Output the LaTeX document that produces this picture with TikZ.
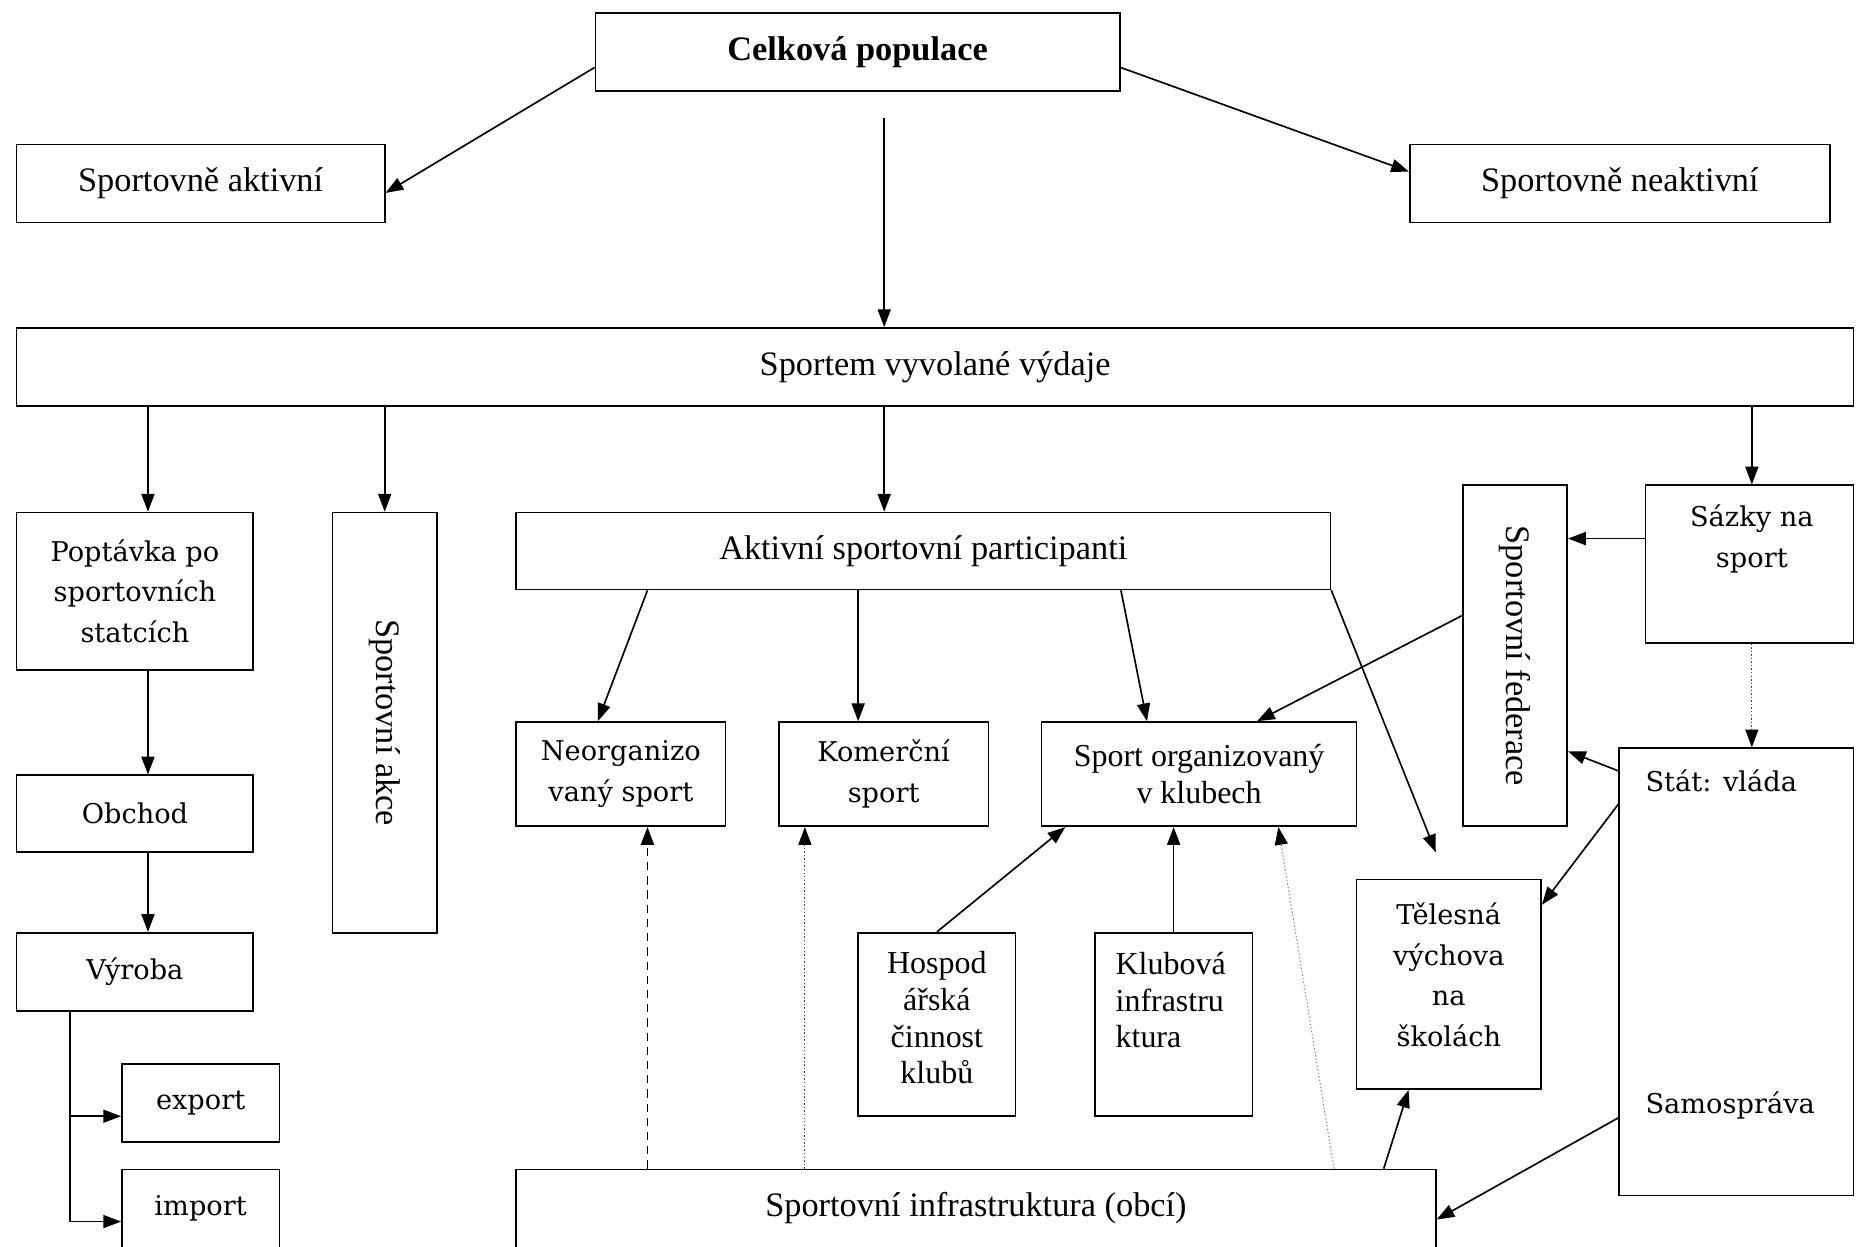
\documentclass[tikz,border=0pt]{standalone}
\usepackage{fontspec}
\usepackage{graphicx}
\setmainfont{Liberation Serif}
\newfontfamily\widefont{DejaVu Serif}
\usetikzlibrary{arrows.meta}
\begin{document}
\begin{tikzpicture}[x=1pt,y=-1pt,
  every node/.style={inner sep=0pt},
  box/.style={draw, line width=1.4pt, align=center, font=\fontsize{29}{31}\selectfont},
  wbox/.style={box, font=\widefont\fontsize{23}{34.5}\selectfont},
  ttxt/.style={align=center, font=\fontsize{27}{31}\selectfont},
  wtxt/.style={align=center, font=\widefont\fontsize{23}{34.5}\selectfont},
  arr/.style={line width=1.4pt, -{Triangle[length=15pt,width=11pt]}},
  dasharr/.style={arr, dash pattern=on 7pt off 5pt},
  dotarr/.style={line width=0.9pt, draw=black!75, dash pattern=on 1.2pt off 1.8pt, -{Triangle[length=15pt,width=11pt,color=black]}},
  lightdotarr/.style={dotarr, draw=black!45},
]
\useasboundingbox (0,0) rectangle (1568,1053);
\fill[white] (0,0) rectangle (1568,1053);
\clip (0,0) rectangle (1568,1053);

% top level
\node[box, font=\fontsize{29}{31}\selectfont\bfseries, minimum width=443pt, minimum height=66pt] (cel) at (724.5,44) {Celková populace};
\node[box, minimum width=311pt, minimum height=66pt] (sa) at (169.5,155) {Sportovně aktivní};
\node[box, minimum width=355pt, minimum height=66pt] (sn) at (1368.5,155) {Sportovně neaktivní};
\node[box, minimum width=1552pt, minimum height=66pt] (svv) at (790,310) {Sportem vyvolané výdaje};

% left column
\node[wbox, minimum width=200pt, minimum height=133pt] (pop) at (114,499.5) {Poptávka po\\sportovních\\statcích};
\node[wbox, minimum width=200pt, minimum height=65pt] (obc) at (114,687.5) {Obchod};
\node[wbox, minimum width=200pt, minimum height=66pt] (vyr) at (114,821) {Výroba};
\node[wbox, minimum width=133pt, minimum height=66pt] (exp) at (169.5,932) {export};
\node[wbox, minimum width=133pt, minimum height=66pt] (imp) at (169.5,1021) {import};
\node[box, minimum width=88pt, minimum height=355pt] (sak) at (325,610.5) {\rotatebox{-90}{Sportovní akce}};

% middle
\node[box, minimum width=688pt, minimum height=65pt] (akt) at (780,465.5) {Aktivní sportovní participanti};
\node[wbox, minimum width=177pt, minimum height=88pt] (neo) at (524.5,654) {Neorganizo\\vaný sport};
\node[wbox, minimum width=177pt, minimum height=88pt] (kom) at (746.5,654) {Komerční\\sport};
\node[box, font=\fontsize{27}{31}\selectfont, minimum width=266pt, minimum height=88pt] (sorg) at (1013,654) {Sport organizovaný\\v klubech};
\node[box, minimum width=133pt, minimum height=155pt] (hos) at (791.5,865.5) {};
\node[ttxt] (host) at (791.5,860) {Hospod\\ářská\\činnost\\klubů};
\node[box, minimum width=133pt, minimum height=155pt] (klu) at (991.5,865.5) {};
\node[ttxt, align=left] (klut) at (989,845) {Klubová\\infrastru\\ktura};
\node[box, minimum width=777pt, minimum height=66pt] (inf) at (824.5,1021) {Sportovní infrastruktura (obcí)};

% right
\node[box, minimum width=88pt, minimum height=288pt] (fed) at (1280,554) {\rotatebox{-90}{Sportovní federace}};
\node[box, minimum width=176pt, minimum height=133pt] (saz) at (1478,476.5) {};
\node[wtxt] (sazt) at (1480,455.5) {Sázky na\\sport};
\node[box, minimum width=198pt, minimum height=378pt] (stat) at (1467,821) {};
\node[wtxt, anchor=west] (statt) at (1390,660) {Stát: vláda};
\node[wtxt, anchor=west] (samot) at (1390,934) {Samospráva};
\node[box, minimum width=156pt, minimum height=177pt] (tel) at (1224,831.5) {};
\node[wtxt] (telt) at (1224,823.5) {Tělesná\\výchova\\na\\školách};
\coordinate (telin) at (1213,720);

% connectors: top
\draw[arr] ([yshift=-13pt]cel.west) -- ([yshift=-8pt]sa.east);
\draw[arr] ([yshift=-13pt]cel.east) -- ([yshift=10pt]sn.west);
\draw[arr, shorten <=22pt] ([xshift=22.5pt]cel.south) -- ([xshift=22.5pt]cel.south |- svv.north);

% from Sportem vyvolane vydaje
\draw[arr] ([xshift=11pt]pop.north |- svv.south) -- ([xshift=11pt]pop.north);
\draw[arr] (sak.north |- svv.south) -- (sak.north);
\draw[arr] ([xshift=-33pt]akt.north |- svv.south) -- ([xshift=-33pt]akt.north);
\draw[arr] ([xshift=2pt]saz.north |- svv.south) -- ([xshift=2pt]saz.north);

% left chain
\draw[arr] ([xshift=11pt]pop.south) -- ([xshift=11pt]obc.north);
\draw[arr] ([xshift=11pt]obc.south) -- ([xshift=11pt]vyr.north);
\draw[arr] ([xshift=-55pt]vyr.south) |- ([yshift=-11pt]exp.west);
\draw[arr] ([xshift=-55pt]vyr.south) |- ([yshift=-11pt]imp.west);

% from Aktivni sportovni participanti
\draw[arr] ([xshift=-233pt]akt.south) -- ([xshift=-19.5pt]neo.north);
\draw[arr] ([xshift=-55pt]akt.south) -- ([xshift=-21.5pt]kom.north);
\draw[arr] ([xshift=167pt]akt.south) -- ([xshift=-44pt]sorg.north);
\draw[arr] (akt.south east) -- (telin);

% right side
\draw[arr] ([yshift=34pt]fed.west) -- ([xshift=49pt]sorg.north);
\draw[arr] ([yshift=21.5pt]saz.west) -- ([yshift=21.5pt]saz.west -| fed.east);
\draw[dotarr] ([xshift=2pt]saz.south) -- ([xshift=2pt]saz.south |- stat.north);
\draw[arr] ([yshift=-20pt]stat.north west) -- ([yshift=64pt]fed.south east);
\draw[arr] ([yshift=-48pt]stat.north west) -- ([yshift=-22pt]tel.north east);
\draw[arr] ([yshift=-313pt]stat.north west) -- ([yshift=-43pt]inf.north east);

% bottom
\draw[arr] ([xshift=344.5pt]inf.north) -- ([xshift=-34pt]tel.south);
\draw[dasharr] ([xshift=22.5pt]neo.south |- inf.north) -- ([xshift=22.5pt]neo.south);
\draw[dotarr] ([xshift=-66.5pt]kom.south |- inf.north) -- ([xshift=-66.5pt]kom.south);
\draw[lightdotarr] ([xshift=302.5pt]inf.north) -- ([xshift=67pt]sorg.south);
\draw[arr] (hos.north) -- ([xshift=-113pt]sorg.south);
\draw[arr] (klu.north) -- (klu.north |- sorg.south);
\end{tikzpicture}
\end{document}
